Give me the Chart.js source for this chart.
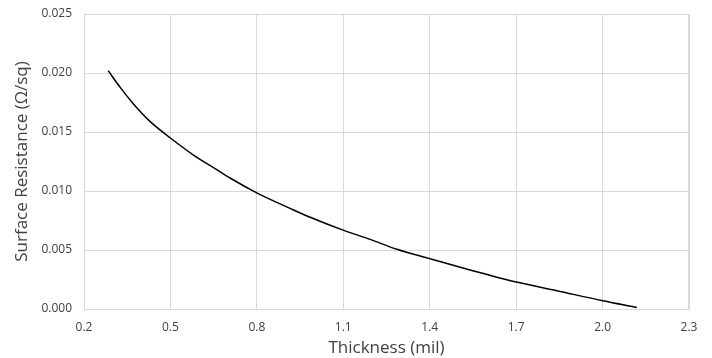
<!DOCTYPE html>
<html>
<head>
<meta charset="utf-8">
<script src="https://cdn.jsdelivr.net/npm/chart.js@4/dist/chart.umd.min.js"></script>
<style>
html,body{margin:0;padding:0;background:#fff;}
#wrap{width:712px;height:358px;position:relative;}
</style>
</head>
<body>
<div id="wrap"><canvas id="c" width="712" height="358"></canvas></div>
<script>
// Data
const thickness = [0.284, 0.325, 0.371, 0.429, 0.501, 0.580, 0.655, 0.707, 0.803, 0.915, 0.985, 1.104, 1.193, 1.286, 1.404, 1.540, 1.705, 1.841, 2.001, 2.119];
const resistance = [0.0202, 0.0188, 0.0174, 0.0159, 0.01447, 0.01305, 0.0119, 0.0111, 0.0098, 0.00853, 0.00777, 0.00664, 0.0059, 0.00506, 0.00424, 0.00331, 0.00226, 0.00155, 0.0007, 0.00013];
const xTicks = [0.2, 0.5, 0.8, 1.1, 1.4, 1.7, 2.0, 2.3];
const yTicks = [0.000, 0.005, 0.010, 0.015, 0.020, 0.025];
const xTitle = 'Thickness (mil)';
const yTitle = 'Surface Resistance (Ω/sq)';

const points = thickness.map((x, i) => ({x: x, y: resistance[i]}));
const FONT = '"Open Sans", sans-serif';

new Chart(document.getElementById('c'), {
  type: 'scatter',
  data: {
    datasets: [{
      data: points,
      showLine: true,
      borderColor: '#000000',
      borderWidth: 1.5,
      pointRadius: 0,
      pointHoverRadius: 0,
      cubicInterpolationMode: 'monotone',
      fill: false
    }]
  },
  options: {
    responsive: false,
    animation: false,
    devicePixelRatio: 1,
    layout: {padding: {left: 0, right: 23, top: 14, bottom: 0}},
    plugins: {legend: {display: false}, tooltip: {enabled: false}},
    scales: {
      x: {
        type: 'linear',
        min: 0.2, max: 2.3,
        afterBuildTicks: s => { s.ticks = xTicks.map(v => ({value: v})); },
        afterFit: s => { s.height = 49; s.paddingLeft = 0; s.paddingRight = 0; },
        grid: {color: '#d9d9d9', lineWidth: 1, drawTicks: false},
        border: {color: '#d9d9d9', width: 1},
        ticks: {
          color: '#404040', padding: 11,
          font: {family: FONT, size: 12},
          maxRotation: 0,
          callback: v => v.toFixed(1)
        },
        title: {display: true, text: xTitle, color: '#404040', font: {family: FONT, size: 17}, padding: {top: 0, bottom: 0}}
      },
      y: {
        type: 'linear',
        min: 0, max: 0.025,
        afterBuildTicks: s => { s.ticks = yTicks.map(v => ({value: v})); },
        afterFit: s => { s.width = 84; s.paddingTop = 0; s.paddingBottom = 0; },
        grid: {color: '#d9d9d9', lineWidth: 1, drawTicks: false},
        border: {color: '#d9d9d9', width: 1},
        ticks: {
          color: '#404040', padding: 12,
          font: {family: FONT, size: 12},
          callback: v => v.toFixed(3)
        },
        title: {display: true, text: yTitle, color: '#404040', font: {family: FONT, size: 17}, padding: {top: 12, bottom: 0}}
      }
    }
  },
  plugins: [{
    id: 'frame',
    afterDraw(chart) {
      const {ctx, chartArea: a} = chart;
      ctx.save();
      ctx.strokeStyle = '#d9d9d9';
      ctx.lineWidth = 1;
      ctx.beginPath();
      ctx.moveTo(a.left, a.top + 0.5);
      ctx.lineTo(a.right, a.top + 0.5);
      ctx.moveTo(a.right - 0.5, a.top);
      ctx.lineTo(a.right - 0.5, a.bottom);
      ctx.stroke();
      ctx.restore();
    }
  }]
});
</script>
</body>
</html>
